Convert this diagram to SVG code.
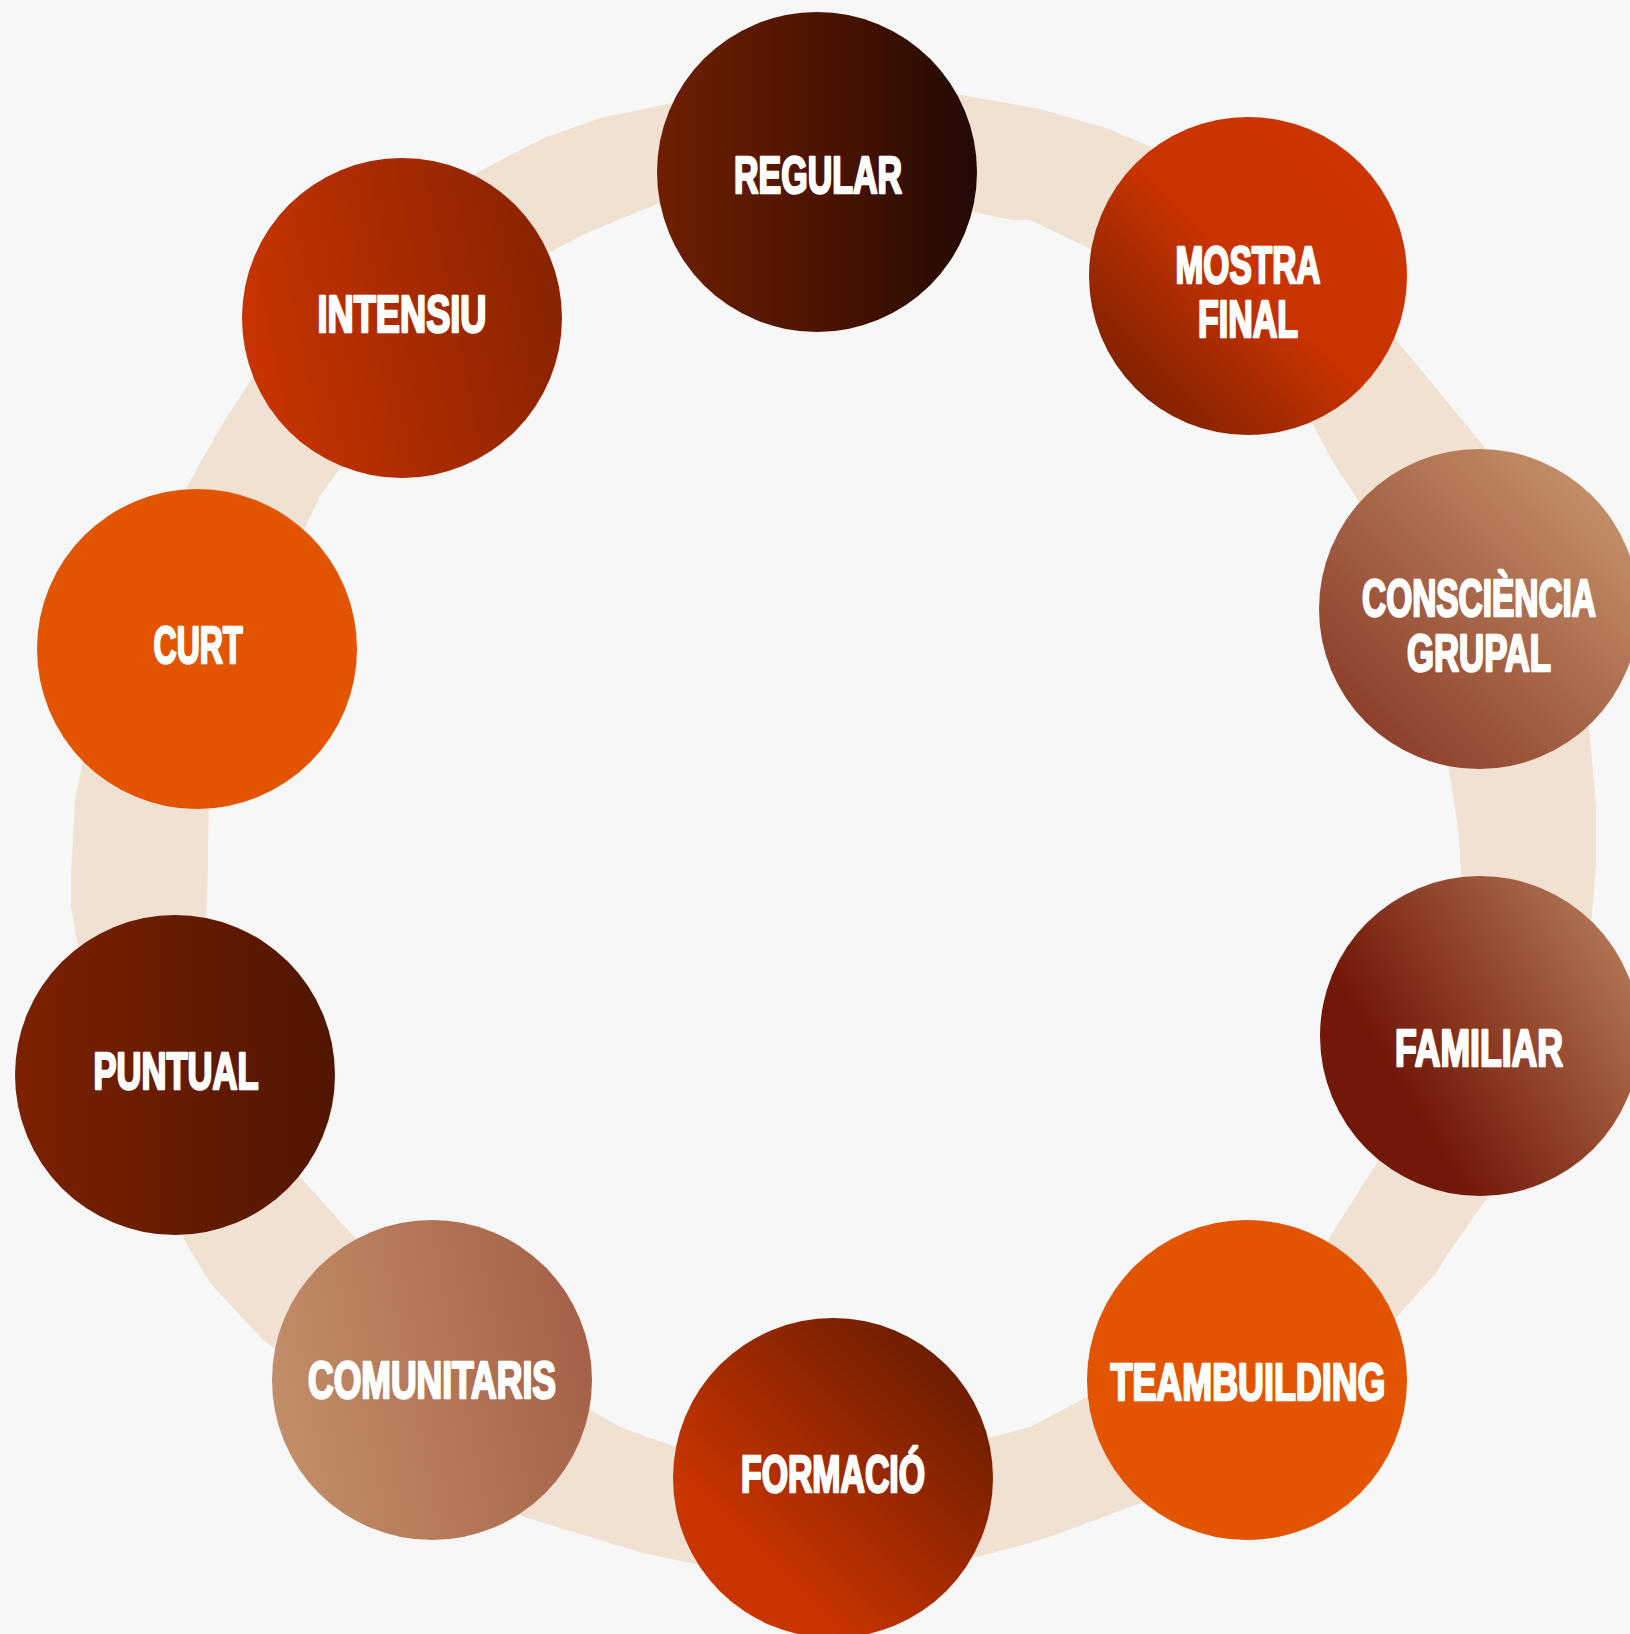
<svg xmlns="http://www.w3.org/2000/svg" width="1630" height="1634" viewBox="0 0 1630 1634">
<style>
.lbl{font-family:"Liberation Sans",Arial,sans-serif;font-weight:700;font-size:52px;fill:#ffffff;stroke:#ffffff;stroke-width:2.6px;stroke-linejoin:round;text-anchor:middle;}
.band{fill:#f0e1d2;fill-rule:evenodd;stroke:none;}
</style>
<defs>
<linearGradient id="gRegular" x1="0" y1="0" x2="1" y2="0"><stop offset="0" stop-color="#6e1f00"/><stop offset="0.5" stop-color="#4d1400"/><stop offset="1" stop-color="#220905"/></linearGradient>
<linearGradient id="gMostra" x1="0.1" y1="0.9" x2="0.9" y2="0.1"><stop offset="0" stop-color="#7a2000"/><stop offset="0.5" stop-color="#c83300"/><stop offset="1" stop-color="#cc3500"/></linearGradient>
<linearGradient id="gConsc" x1="0.1" y1="0.9" x2="0.9" y2="0.1"><stop offset="0" stop-color="#8a3b27"/><stop offset="1" stop-color="#c6926c"/></linearGradient>
<linearGradient id="gFamiliar" x1="0" y1="0.8" x2="1" y2="0.2"><stop offset="0.25" stop-color="#731808"/><stop offset="1" stop-color="#b67b59"/></linearGradient>
<linearGradient id="gFormacio" x1="0.1" y1="0.9" x2="0.9" y2="0.1"><stop offset="0.2" stop-color="#c93400"/><stop offset="1" stop-color="#661c00"/></linearGradient>
<linearGradient id="gComun" x1="0" y1="0.6" x2="1" y2="0.4"><stop offset="0" stop-color="#c28e68"/><stop offset="1" stop-color="#a56148"/></linearGradient>
<linearGradient id="gPuntual" x1="0" y1="0" x2="1" y2="0"><stop offset="0" stop-color="#7c2100"/><stop offset="1" stop-color="#501500"/></linearGradient>
<linearGradient id="gIntensiu" x1="0" y1="0.6" x2="1" y2="0.4"><stop offset="0" stop-color="#c93400"/><stop offset="1" stop-color="#882300"/></linearGradient>
</defs>
<rect x="0" y="0" width="1630" height="1634" fill="#f7f7f7"/>
<g id="connectors">
<path class="band" d="M440,190 L473,175 L520,150 L547,137 L600,118 L673,103 L700,95 L818,82 L940,88 L956,94 L1040,109 L1109,129 L1156,149 L1180,170 L1380,320 L1393,336 L1449,404 L1487,450 L1500,470 L1590,700 L1589,726 L1596,806 L1596,864 L1591,927 L1560,1000 L1500,1180 L1489,1195 L1447,1255 L1436,1273 L1394,1320 L1380,1340 L1160,1500 L1141,1503 L1060,1533 L1030,1543 L973,1558 L960,1560 L833,1590 L710,1570 L700,1565 L643,1553 L560,1528 L522,1516 L500,1500 L300,1360 L279,1352 L263,1340 L210,1283 L184,1239 L180,1220 L90,960 L78,947 L71,907 L71,876 L75,800 L83,760 L100,740 L180,500 L186,489 L200,463 L225,420 L253,377 L280,360 Z M548,253 L587,233 L630,215 L660,203 L700,200 L818,230 L960,205 L974,212 L1012,220 L1030,220 L1086,247 L1096,252 L1200,350 L1300,410 L1310,419 L1333,462 L1361,505 L1400,600 L1449,769 L1459,835 L1461,875 L1400,1036 L1378,1161 L1328,1240 L1250,1380 L1089,1396 L1068,1407 L1030,1427 L988,1438 L833,1440 L677,1447 L647,1437 L620,1427 L590,1410 L432,1380 L356,1239 L301,1178 L175,1075 L206,920 L208,871 L208,840 L209,809 L197,649 L304,530 L320,496 L340,468 L344,467 L402,318 Z"/>
</g>
<g id="node-regular">
<circle cx="817" cy="172" r="160" fill="url(#gRegular)"/>
<text class="lbl" x="818" y="193" textLength="168" lengthAdjust="spacingAndGlyphs">REGULAR</text>
</g>
<g id="node-mostra-final">
<circle cx="1248" cy="276" r="159" fill="url(#gMostra)"/>
<text class="lbl" x="1248" y="283" textLength="145" lengthAdjust="spacingAndGlyphs">MOSTRA</text>
<text class="lbl" x="1248" y="337" textLength="100" lengthAdjust="spacingAndGlyphs">FINAL</text>
</g>
<g id="node-consciencia-grupal">
<circle cx="1479" cy="609" r="160" fill="url(#gConsc)"/>
<text class="lbl" x="1479" y="616" textLength="234" lengthAdjust="spacingAndGlyphs">CONSCIÈNCIA</text>
<text class="lbl" x="1479" y="671" textLength="144" lengthAdjust="spacingAndGlyphs">GRUPAL</text>
</g>
<g id="node-familiar">
<circle cx="1480" cy="1036" r="160" fill="url(#gFamiliar)"/>
<text class="lbl" x="1479" y="1066" textLength="168" lengthAdjust="spacingAndGlyphs">FAMILIAR</text>
</g>
<g id="node-teambuilding">
<circle cx="1247" cy="1380" r="160" fill="#e25400"/>
<text class="lbl" x="1248" y="1400" textLength="275" lengthAdjust="spacingAndGlyphs">TEAMBUILDING</text>
</g>
<g id="node-formacio">
<circle cx="833" cy="1478" r="160" fill="url(#gFormacio)"/>
<text class="lbl" x="833" y="1492" textLength="184" lengthAdjust="spacingAndGlyphs">FORMACIÓ</text>
</g>
<g id="node-comunitaris">
<circle cx="432" cy="1380" r="160" fill="url(#gComun)"/>
<text class="lbl" x="432" y="1398" textLength="248" lengthAdjust="spacingAndGlyphs">COMUNITARIS</text>
</g>
<g id="node-puntual">
<circle cx="175" cy="1075" r="160" fill="url(#gPuntual)"/>
<text class="lbl" x="176" y="1089" textLength="165" lengthAdjust="spacingAndGlyphs">PUNTUAL</text>
</g>
<g id="node-curt">
<circle cx="197" cy="649" r="160" fill="#e25400"/>
<text class="lbl" x="198" y="663" textLength="89" lengthAdjust="spacingAndGlyphs">CURT</text>
</g>
<g id="node-intensiu">
<circle cx="402" cy="318" r="160" fill="url(#gIntensiu)"/>
<text class="lbl" x="402" y="332" textLength="169" lengthAdjust="spacingAndGlyphs">INTENSIU</text>
</g>
</svg>
